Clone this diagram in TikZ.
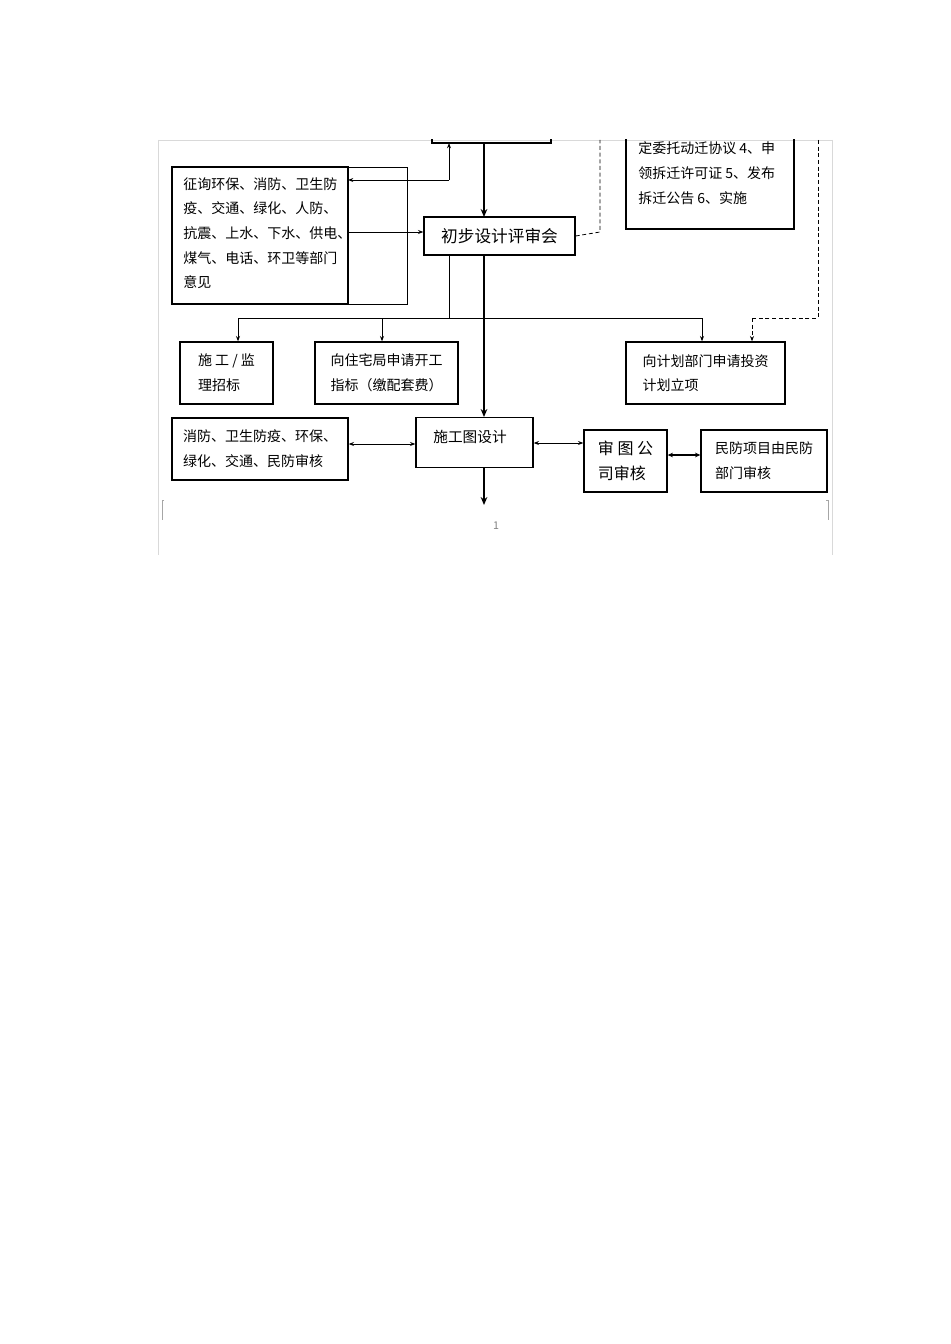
\documentclass[tikz,border=0pt]{standalone}
\usepackage{fontspec}
\setmainfont{Noto Sans CJK SC}
\usetikzlibrary{arrows.meta}
\begin{document}
\begin{tikzpicture}[x=0.75pt,y=-0.75pt,
 box/.style={draw,line width=1pt,inner sep=0pt},
 txt/.style={font=\fontsize{10.5}{18.5}\selectfont,align=left,anchor=north west,inner sep=0pt},
 thin/.style={line width=0.6pt,-{Stealth[length=4pt,width=3pt]}},
 thick/.style={line width=1.8pt,-{Stealth[length=6pt,width=5pt]}},
 dsh/.style={line width=0.6pt,dash pattern=on 3pt off 2pt}]
\useasboundingbox (0,0) rectangle (950,1344);
\draw[gray!30,line width=0.5pt] (158,140) -- (158,555) (832,140) -- (832,555) (158,140) -- (832,140);
\draw[gray!70] (164,500) -- (162,500) -- (162,520) (826,500) -- (828,500) -- (828,520);
\node[gray,font=\fontsize{8}{8}\selectfont] (pg) at (496,526) {1};
\begin{scope}
\clip (150,140) rectangle (840,600);
\draw[box] (432,120) rectangle (551,143);
\coordinate (T) at (484,143);
\coordinate (T2) at (449,143);
\draw[box] (626,100) rectangle (794,229);
\node[txt] (rt) at (638,117) {拆迁计划和方案 3、鉴\\定委托动迁协议 4、申\\领拆迁许可证 5、发布\\拆迁公告 6、实施};
\end{scope}
\node[box,minimum width=176pt*0.75/0.75,minimum height=137*0.75pt,anchor=north west] (A) at (172,167) {};
\path (172,167) coordinate (Anw) (348,304) coordinate (Ase);
\draw[line width=1pt] (Anw) rectangle (Ase);
\node[txt] (At) at (183,177) {征询环保、消防、卫生防\\疫、交通、绿化、人防、\\抗震、上水、下水、供电、\\煤气、电话、环卫等部门\\意见};
\node[box,minimum width=113.25pt,minimum height=28.5pt,font=\fontsize{12.5}{12.5}\selectfont] (B) at (499.5,236) {初步设计评审会};
\node[box,minimum width=69.75pt,minimum height=46.5pt,font=\itshape\fontsize{10.5}{18.5}\selectfont,align=left] (C1) at (226.5,373) {施 工 / 监\\理招标};
\node[box,minimum width=107.25pt,minimum height=46.5pt,font=\fontsize{10.5}{18.5}\selectfont,align=left] (C2) at (386.5,373) {向住宅局申请开工\\指标（缴配套费）};
\node[box,minimum width=119.25pt,minimum height=46.5pt,font=\fontsize{10.5}{18.5}\selectfont,align=left] (C3) at (705.5,373) {向计划部门申请投资\\计划立项};
\node[box,minimum width=132pt,minimum height=46.5pt,font=\fontsize{10.5}{18.5}\selectfont,align=left] (D1) at (260,449) {消防、卫生防疫、环保、\\绿化、交通、民防审核};
\node[box,minimum width=87.75pt,minimum height=37.5pt,anchor=north] (D2) at (474.5,417) {};
\node[font=\fontsize{11}{11}\selectfont] (D2t) at (470,437) {施工图设计};
\node[box,minimum width=62.25pt,minimum height=46.5pt,font=\fontsize{12}{19}\selectfont,align=left] (D3) at (625.5,461) {审 图 公\\司审核};
\node[box,minimum width=94.5pt,minimum height=46.5pt,font=\fontsize{10.5}{18.5}\selectfont,align=left] (D4) at (764,461) {民防项目由民防\\部门审核};
% connectors
\draw[thick] (T) -- (484,217);
\coordinate (j1) at (449,180);
\draw[thin] (j1) -- (T2);
\draw[thin] (j1) -- (348,180);
\draw[thin] (348,232) -- (B.west |- 0,232);
\coordinate (j2) at (449,318);
\draw[line width=0.6pt] (449,255) -- (j2);
\draw[line width=0.6pt] (238,318) -- (702,318);
\draw[thin] (238,318) -- (C1.north -| 238,0);
\draw[thin] (382,318) -- (C2.north -| 382,0);
\draw[thin] (702,318) -- (C3.north -| 702,0);
\draw[thick] (484,255) -- (D2.north -| 484,0);
\draw[dsh] (B.east) -- (600,232) -- (600,140);
\draw[dsh] (818,140) -- (818,318) -- (752,318);
\draw[dsh,-{Stealth[length=4pt,width=3pt]}] (752,318) -- (C3.north -| 752,0);
\draw[line width=0.6pt,{Stealth[length=4pt,width=3pt]}-{Stealth[length=4pt,width=3pt]}] (D1.east |- 0,444) -- (D2.west |- 0,444);
\draw[line width=0.6pt,{Stealth[length=4pt,width=3pt]}-{Stealth[length=4pt,width=3pt]}] (D2.east |- 0,443) -- (D3.west |- 0,443);
\draw[line width=1.4pt,{Stealth[length=4pt,width=3.5pt]}-{Stealth[length=4pt,width=3.5pt]}] (D3.east |- 0,455) -- (D4.west |- 0,455);
\coordinate (E) at (484,505);
\draw[thick] (D2.south -| 484,0) -- (E);
\end{tikzpicture}
\end{document}
